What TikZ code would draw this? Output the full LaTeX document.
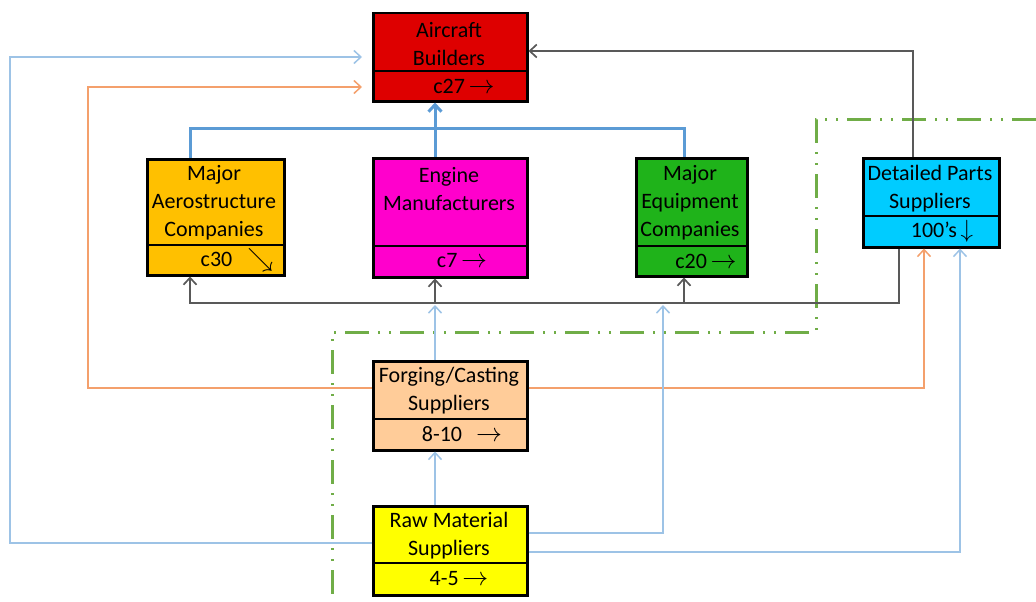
\documentclass[tikz,border=0pt]{standalone}
\usepackage{fontspec}
\setmainfont{Carlito}
\usetikzlibrary{arrows.meta}
\definecolor{cRed}{HTML}{DE0000}
\definecolor{cAero}{HTML}{FFC000}
\definecolor{cEng}{HTML}{FF00CC}
\definecolor{cEq}{HTML}{1FB31A}
\definecolor{cDet}{HTML}{00CCFF}
\definecolor{cForg}{HTML}{FFCC99}
\definecolor{cRaw}{HTML}{FFFF00}
\definecolor{cBlueT}{HTML}{5B9BD5}
\definecolor{cBlue}{HTML}{9DC3E6}
\definecolor{cOra}{HTML}{F4A06C}
\definecolor{cGray}{HTML}{595959}
\definecolor{cGreen}{HTML}{70AD47}
\newcommand{\rarr}{\scalebox{1.25}{$\rightarrow$}}
\newcommand{\searr}{\scalebox{1.25}{$\searrow$}}
\newcommand{\darr}{\scalebox{1.2}{$\downarrow$}}
\begin{document}
\begin{tikzpicture}[x=1pt,y=-1pt,
  box/.style={draw=black,line width=2.5pt,inner sep=0pt,anchor=north west},
  divider/.style={draw=black,line width=2.5pt},
  lbl/.style={font=\fontsize{22}{28}\selectfont,align=center,inner sep=0pt},
  tip/.style={-{Straight Barb[length=7pt,width=13pt]}},
  bluethick/.style={draw=cBlueT,line width=3pt},
  bluethin/.style={draw=cBlue,line width=1.5pt},
  oraline/.style={draw=cOra,line width=1.5pt},
  blkline/.style={draw=cGray,line width=1.7pt},
  greendd/.style={draw=cGreen,line width=3pt,dash pattern=on 24pt off 9pt on 2pt off 9pt on 2pt off 9pt}]
\useasboundingbox (0,0) rectangle (1036,602);

% green boundary
\draw[greendd] (1036,119) -- (816,119) -- (816,332) -- (332,332) -- (332,602);

% boxes
\node[box,fill=cRed,minimum width=154pt,minimum height=88pt] (ac) at (372,12) {};
\node[box,fill=cAero,minimum width=137pt,minimum height=116pt] (aero) at (146,158) {};
\node[box,fill=cEng,minimum width=154pt,minimum height=119pt] (eng) at (372,157) {};
\node[box,fill=cEq,minimum width=111pt,minimum height=118pt] (eq) at (635,157) {};
\node[box,fill=cDet,minimum width=136pt,minimum height=89pt] (det) at (862,157) {};
\node[box,fill=cForg,minimum width=154pt,minimum height=89pt] (forg) at (372,360) {};
\node[box,fill=cRaw,minimum width=154pt,minimum height=89pt] (raw) at (372,505) {};

% dividers
\draw[divider] (ac.west |- 0,71) -- (ac.east |- 0,71);
\draw[divider] (aero.west |- 0,245) -- (aero.east |- 0,245);
\draw[divider] (eng.west |- 0,246) -- (eng.east |- 0,246);
\draw[divider] (eq.west |- 0,246) -- (eq.east |- 0,246);
\draw[divider] (det.west |- 0,216) -- (det.east |- 0,216);
\draw[divider] (forg.west |- 0,419) -- (forg.east |- 0,419);
\draw[divider] (raw.west |- 0,563) -- (raw.east |- 0,563);

% labels
\node[lbl] (acT) at (449,44) {Aircraft\\Builders};
\node[lbl] (acN) at (464,86) {c27\,\rarr};
\node[lbl] (aeroT) at (214,203) {Major\\Aerostructure\\Companies};
\node[lbl] (aeroN) at (237,260) {c30\hspace{15pt}\searr};
\node[lbl] (engT) at (449,189) {Engine\\Manufacturers};
\node[lbl] (engN) at (462,261) {c7\,\rarr};
\node[lbl] (eqT) at (690,203) {Major\\Equipment\\Companies};
\node[lbl] (eqN) at (706,261) {c20\,\rarr};
\node[lbl] (detT) at (930,189) {Detailed Parts\\Suppliers};
\node[lbl] (detN) at (942,231) {100's\,\darr};
\node[lbl] (forgT) at (449,391) {Forging/Casting\\Suppliers};
\node[lbl] (forgN) at (462,434) {8-10\hspace{14pt}\rarr};
\node[lbl] (rawT) at (449,536) {Raw Material\\Suppliers};
\node[lbl] (rawN) at (459,579) {4-5\,\rarr};

% thick blue bus to aircraft builders
\draw[bluethick] (190,0 |- aero.north) -- (190,128) -- (684,128) -- (684,0 |- eq.north);
\draw[bluethick,tip] (435,0 |- eng.north) -- (435,0 |- ac.south);

% coordinates on the gray bus
\coordinate (busA) at (435,305);
\coordinate (busB) at (663,305);

% gray bus from detailed parts
\draw[blkline,tip] (899,0 |- det.south) -- (899,303) -- (190,303) -- (190,0 |- aero.south);
\draw[blkline,tip] (435,303) -- (435,0 |- eng.south);
\draw[blkline,tip] (684,303) -- (684,0 |- eq.south);
\draw[blkline,tip] (913,0 |- det.north) -- (913,51) -- (ac.east |- 0,51);

% orange lines from forging
\draw[oraline,tip,shorten >=10pt] (forg.west |- 0,388) -- (88,388) -- (88,87) -- (ac.west |- 0,87);
\draw[oraline,tip] (forg.east |- 0,388) -- (924,388) -- (924,0 |- det.south);

% blue lines from raw material
\draw[bluethin,tip,shorten >=10pt] (raw.west |- 0,543) -- (10,543) -- (10,57) -- (ac.west |- 0,57);
\draw[bluethin,tip] (raw.east |- 0,533) -- (663,533) -- (busB);
\draw[bluethin,tip] (raw.east |- 0,552) -- (960,552) -- (960,0 |- det.south);
\draw[bluethin,tip] (435,0 |- raw.north) -- (435,0 |- forg.south);
\draw[bluethin,tip] (435,0 |- forg.north) -- (busA);
\end{tikzpicture}
\end{document}
